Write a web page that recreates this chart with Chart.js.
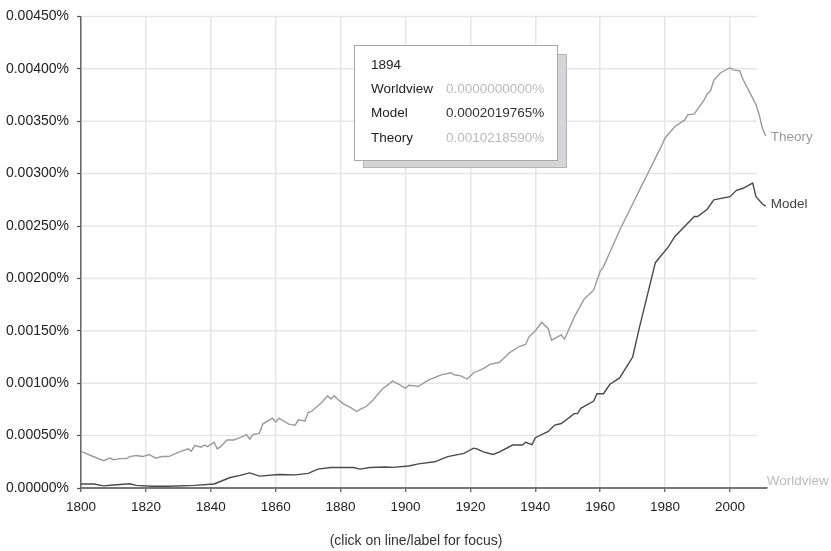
<!DOCTYPE html>
<html>
<head>
<meta charset="utf-8">
<script src="https://cdn.jsdelivr.net/npm/chart.js@4"></script>
<style>
  html, body { margin: 0; padding: 0; background: #fff; }
</style>
</head>
<body>
<canvas id="chart" width="831" height="551"></canvas>
<script>
// Ngram-style frequencies, values are in percent (0.001 -> "0.00100%")
const theoryYears = [1800, 1803, 1807, 1809, 1810, 1812, 1814, 1815, 1817, 1819, 1821, 1823, 1825, 1827, 1830,
  1833, 1834, 1835, 1837, 1838, 1839, 1841, 1842, 1843, 1845, 1847, 1849, 1851, 1852, 1853, 1855, 1856,
  1859, 1860, 1861, 1864, 1866, 1867, 1869, 1870, 1871, 1874, 1876, 1877, 1878, 1879, 1881, 1883, 1885,
  1886, 1888, 1890, 1893, 1894, 1896, 1898, 1900, 1901, 1904, 1907, 1911, 1914, 1915, 1917, 1919, 1921,
  1924, 1926, 1929, 1932, 1935, 1937, 1938, 1940, 1942, 1944, 1945, 1948, 1949, 1952, 1955, 1958, 1960,
  1961, 1966, 1970, 1973, 1974, 1978, 1979, 1980, 1983, 1986, 1987, 1989, 1992, 1993, 1994, 1995, 1997,
  2000, 2001, 2003, 2004, 2006, 2008, 2009, 2010, 2011];
const theoryValues = [0.00035, 0.00031, 0.00026, 0.000285, 0.00027, 0.00028, 0.00028, 0.0003, 0.00031, 0.0003,
  0.00032, 0.000285, 0.0003, 0.0003, 0.00034, 0.000373, 0.00035, 0.000405, 0.00039, 0.00041, 0.000395,
  0.000436, 0.000373, 0.000395, 0.000458, 0.000458, 0.00048, 0.00051, 0.000465, 0.00051, 0.000524, 0.00061,
  0.000666, 0.00063, 0.000666, 0.00061, 0.0006, 0.00065, 0.00064, 0.00072, 0.00073, 0.00081, 0.00088,
  0.00085, 0.00088, 0.00085, 0.0008, 0.00077, 0.00073, 0.00075, 0.00078, 0.00084, 0.00095, 0.00097,
  0.00102, 0.00099, 0.00095, 0.00098, 0.00097, 0.00103, 0.00108, 0.0011, 0.00108, 0.00107, 0.00104, 0.0011,
  0.00114, 0.00118, 0.0012, 0.00129, 0.00135, 0.00137, 0.00144, 0.0015, 0.00158, 0.00152, 0.00141, 0.00146,
  0.00142, 0.00163, 0.0018, 0.00189, 0.00207, 0.00211, 0.00246, 0.00271, 0.0029, 0.00296, 0.00321, 0.00327,
  0.00334, 0.00345, 0.00351, 0.00356, 0.00357, 0.0037, 0.00376, 0.00379, 0.00389, 0.00396, 0.00401, 0.00399,
  0.00398, 0.0039, 0.00378, 0.00366, 0.00356, 0.00343, 0.00336];

const modelYears = [1800, 1804, 1807, 1810, 1815, 1817, 1822, 1827, 1835, 1841, 1846, 1849, 1852, 1855, 1861,
  1866, 1870, 1873, 1877, 1884, 1886, 1889, 1894, 1896, 1901, 1904, 1909, 1913, 1918, 1921, 1922, 1924,
  1927, 1929, 1933, 1936, 1937, 1939, 1940, 1944, 1946, 1948, 1952, 1953, 1954, 1958, 1959, 1961, 1963,
  1966, 1970, 1972, 1977, 1981, 1983, 1989, 1990, 1993, 1995, 2000, 2002, 2004, 2007, 2008, 2010, 2011];
const modelValues = [0.000038, 0.000038, 0.00002, 0.000028, 0.00004, 0.000025, 0.000016, 0.000016, 0.000025,
  0.000038, 0.0001, 0.00012, 0.000144, 0.000113, 0.000129, 0.000125, 0.00014, 0.00018, 0.000195, 0.000195,
  0.00018, 0.000195, 0.0002, 0.000197, 0.00021, 0.00023, 0.00025, 0.0003, 0.00033, 0.00038, 0.000374,
  0.000345, 0.00032, 0.000345, 0.00041, 0.00041, 0.000436, 0.000414, 0.00048, 0.00054, 0.0006, 0.000615,
  0.00071, 0.00071, 0.00076, 0.00083, 0.0009, 0.0009, 0.00099, 0.00105, 0.00125, 0.00152, 0.00215, 0.0023,
  0.0024, 0.00259, 0.00259, 0.00266, 0.00275, 0.00278, 0.00284, 0.00286, 0.00291, 0.00278, 0.00271, 0.00269];

const worldviewYears = [1800, 1850, 1900, 1950, 2000, 2011];
const worldviewValues = [0, 0, 0, 0, 0, 0];

const seriesNames = ['Worldview', 'Model', 'Theory'];
const xTicks = [1800, 1820, 1840, 1860, 1880, 1900, 1920, 1940, 1960, 1980, 2000];
const yTicks = [0, 0.0005, 0.001, 0.0015, 0.002, 0.0025, 0.003, 0.0035, 0.004, 0.0045];

// hover box shown in the picture
const hoverYear = '1894';
const hoverValues = ['0.0000000000%', '0.0002019765%', '0.0010218590%'];
const caption = '(click on line/label for focus)';

const FONT = "'Liberation Sans', Arial, Helvetica, sans-serif";
const colors = ['#c4c4c4', '#4a4a4a', '#9a9a9a'];

function pts(xs, ys) {
    return xs.map((x, i) => ({ x: x, y: ys[i] }));
}

const overlay = {
    id: 'overlay',
    beforeDatasetsDraw(chart) {
        const { ctx, chartArea: a, scales: { y } } = chart;
        // horizontal grid stops a little short of the x axis end
        ctx.save();
        ctx.strokeStyle = '#e6e6e6';
        ctx.lineWidth = 1.5;
        yTicks.forEach(v => {
            if (v === 0) return;
            const py = y.getPixelForValue(v);
            ctx.beginPath();
            ctx.moveTo(a.left + 1, py);
            ctx.lineTo(a.right - 10, py);
            ctx.stroke();
        });
        ctx.restore();
    },
    afterDatasetsDraw(chart) {
        const { ctx, chartArea: a } = chart;
        ctx.save();
        // x axis line goes back on top of the flat Worldview line
        ctx.strokeStyle = '#666';
        ctx.lineWidth = 1.5;
        ctx.beginPath();
        ctx.moveTo(a.left, a.bottom);
        ctx.lineTo(a.right, a.bottom);
        ctx.stroke();

        // series names next to the line ends
        const dy = [-7, -2, 1];
        ctx.font = '13.5px ' + FONT;
        ctx.textBaseline = 'middle';
        ctx.textAlign = 'left';
        chart.data.datasets.forEach((ds, i) => {
            const meta = chart.getDatasetMeta(i);
            const last = meta.data[meta.data.length - 1];
            ctx.fillStyle = ds.labelColor;
            ctx.fillText(ds.label, last.x + (i === 0 ? 1 : 5), last.y + dy[i]);
        });
        ctx.restore();
    },
    afterDraw(chart) {
        const { ctx } = chart;
        ctx.save();
        // hover box with its drop shadow
        ctx.fillStyle = '#d5d5d8';
        ctx.strokeStyle = '#b4b4b8';
        ctx.lineWidth = 1;
        ctx.fillRect(363.5, 54.5, 203, 113);
        ctx.strokeRect(363.5, 54.5, 203, 113);
        ctx.fillStyle = '#fff';
        ctx.strokeStyle = '#a8a8a8';
        ctx.fillRect(354.5, 45.5, 203, 115);
        ctx.strokeRect(354.5, 45.5, 203, 115);

        ctx.font = '13.5px ' + FONT;
        ctx.textBaseline = 'middle';
        ctx.textAlign = 'left';
        ctx.fillStyle = '#222';
        ctx.fillText(hoverYear, 371, 65);
        seriesNames.forEach((name, i) => {
            const ry = 89 + i * 24.5;
            ctx.fillStyle = '#222';
            ctx.fillText(name, 371, ry);
            ctx.fillStyle = i === 1 ? '#333' : '#bbb';
            ctx.fillText(hoverValues[i], 446, ry);
        });

        ctx.font = '14px ' + FONT;
        ctx.fillStyle = '#333';
        ctx.textAlign = 'center';
        ctx.fillText(caption, 416, 541);
        ctx.restore();
    }
};

new Chart(document.getElementById('chart'), {
    type: 'line',
    data: {
        datasets: [
            { label: seriesNames[0], data: pts(worldviewYears, worldviewValues), borderColor: colors[0], labelColor: '#bbb' },
            { label: seriesNames[1], data: pts(modelYears, modelValues), borderColor: colors[1], labelColor: '#444' },
            { label: seriesNames[2], data: pts(theoryYears, theoryValues), borderColor: colors[2], labelColor: '#999' }
        ].map(d => Object.assign(d, { borderWidth: 1.4, pointRadius: 0, tension: 0, fill: false }))
    },
    options: {
        responsive: false,
        devicePixelRatio: 1,
        animation: false,
        events: [],
        layout: { padding: { top: 12, right: 64, bottom: 0, left: 0 } },
        plugins: { legend: { display: false }, tooltip: { enabled: false } },
        scales: {
            x: {
                type: 'linear',
                min: 1800,
                max: 2011.4,
                afterFit: s => { s.height = 63; },
                afterBuildTicks: s => { s.ticks = xTicks.map(v => ({ value: v })); },
                ticks: { callback: v => String(v), color: '#222', font: { family: FONT, size: 13.5 }, padding: 7, maxRotation: 0, autoSkip: false },
                grid: { color: '#e6e6e6', lineWidth: 1.5, tickColor: '#555', tickLength: 4, tickWidth: 1.2 },
                border: { color: '#666', width: 1.5 }
            },
            y: {
                min: 0,
                max: 0.0045,
                afterFit: s => { s.width = 81; },
                afterBuildTicks: s => { s.ticks = yTicks.map(v => ({ value: v })); },
                ticks: { callback: v => v.toFixed(5) + '%', color: '#222', font: { family: FONT, size: 14 }, padding: 8 },
                grid: { drawOnChartArea: false, tickColor: '#555', tickLength: 4, tickWidth: 1.2 },
                border: { color: '#666', width: 1.5 }
            }
        }
    },
    plugins: [overlay]
});
</script>
</body>
</html>
